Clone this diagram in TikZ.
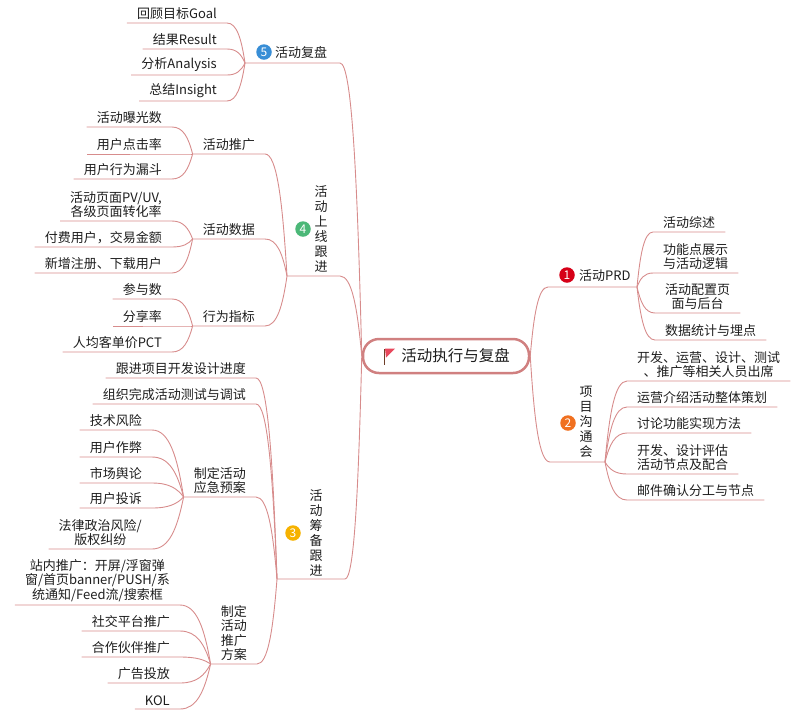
\documentclass[tikz,border=0pt]{standalone}
\usepackage{fontspec}
\setmainfont{Noto Sans CJK SC}
\usetikzlibrary{calc}
\definecolor{linec}{RGB}{215,140,140}
\definecolor{rootc}{RGB}{208,128,128}
\definecolor{textc}{RGB}{30,30,30}
\definecolor{badgered}{RGB}{214,0,24}
\definecolor{badgeorange}{RGB}{240,112,32}
\definecolor{badgeyellow}{RGB}{246,178,0}
\definecolor{badgegreen}{RGB}{76,184,120}
\definecolor{badgeblue}{RGB}{56,142,214}
\definecolor{flagc}{RGB}{232,72,92}
\definecolor{polec}{RGB}{110,62,40}
\tikzset{
  link/.style={draw=linec, line width=0.9pt},
  fan/.style={to path={let \p1=(\tikztostart), \p2=(\tikztotarget) in
    .. controls ({\x1+0.2*(\x2-\x1)},{\y1+0.6*(\y2-\y1)}) and ({\x1+0.45*(\x2-\x1)},\y2) .. (\tikztotarget)}},
  leaf/.style={inner xsep=10pt, inner ysep=3pt, align=center, text=textc,
    font=\fontsize{13}{14.5}\selectfont},
  leafL/.style={leaf, anchor=south east},
  leafR/.style={leaf, anchor=south west},
  vtext/.style={align=center, inner sep=0pt, text=textc, font=\fontsize{13}{15}\selectfont},
  badge/.style={circle, fill=#1, text=white, inner sep=0pt, minimum size=15.5pt,
    font=\fontsize{12}{12}\selectfont},
  root/.style={draw=rootc, line width=2.5pt, rounded corners=16pt, fill=white,
    minimum width=166pt, minimum height=34pt, text=textc, font=\fontsize{15.5}{18}\selectfont},
}
\begin{document}
\begin{tikzpicture}[x=1pt,y=1pt]
	\useasboundingbox (0,0) rectangle (800,-716);

	% centre
	\node[root] (root) at (446,-356) {\hspace*{19pt}活动执行与复盘};
	\fill[polec] (383.6,-348.5) rectangle (385,-364.5);
	\fill[flagc] (385,-348.5) -- (395,-348.5) -- (386,-357.5) -- cycle;

	% 1 活动PRD
	\coordinate (b1in) at (548,-287);
	\coordinate (b1out) at (637,-287);
	\node[badge=badgered] (n1) at (567,-275) {1};
	\node[vtext, anchor=west] (t1) at (579,-276) {活动PRD};
	\draw[link] (root.east) to[fan] (b1in) -- (b1out);
	\node[leafR] (l11) at (653,-232) {活动综述};
	\node[leafR] (l12) at (653,-273) {功能点展示\\与活动逻辑};
	\node[leafR] (l13) at (655,-313) {活动配置页\\面与后台};
	\node[leafR] (l14) at (655,-340) {数据统计与埋点};
	\draw[link] (b1out) to[fan] (l11.south west) -- (l11.south east);
	\draw[link] (b1out) to[fan] (l12.south west) -- (l12.south east);
	\draw[link] (b1out) to[fan] (l13.south west) -- (l13.south east);
	\draw[link] (b1out) to[fan] (l14.south west) -- (l14.south east);

	% 2 项目沟通会
	\coordinate (b2in) at (550,-462);
	\coordinate (b2out) at (605,-462);
	\node[badge=badgeorange] (n2) at (568,-423) {2};
	\node[vtext] (t2) at (586,-422) {项\\目\\沟\\通\\会};
	\draw[link] (root.east) to[fan] (b2in) -- (b2out);
	\node[leafR] (l21) at (627,-381) {开发、运营、设计、测试\\、推广等相关人员出席};
	\node[leafR] (l22) at (627,-407) {运营介绍活动整体策划};
	\node[leafR] (l23) at (627,-433) {讨论功能实现方法};
	\node[leafR] (l24) at (627,-474) {开发、设计评估\\活动节点及配合};
	\node[leafR] (l25) at (627,-500) {邮件确认分工与节点};
	\draw[link] (b2out) to[fan] (l21.south west) -- (l21.south east);
	\draw[link] (b2out) to[fan] (l22.south west) -- (l22.south east);
	\draw[link] (b2out) to[fan] (l23.south west) -- (l23.south east);
	\draw[link] (b2out) to[fan] (l24.south west) -- (l24.south east);
	\draw[link] (b2out) to[fan] (l25.south west) -- (l25.south east);

	% 5 活动复盘
	\coordinate (b5in) at (340,-63);
	\coordinate (b5out) at (245,-63);
	\node[badge=badgeblue] (n5) at (264,-52) {5};
	\node[vtext, anchor=west] (t5) at (275,-52) {活动复盘};
	\draw[link] (root.west) to[fan] (b5in) -- (b5out);
	\node[leafL] (l51) at (227,-23) {回顾目标Goal};
	\node[leafL] (l52) at (227,-49) {结果Result};
	\node[leafL] (l53) at (227,-75) {分析Analysis};
	\node[leafL] (l54) at (227,-101) {总结Insight};
	\draw[link] (b5out) to[fan] (l51.south east) -- (l51.south west);
	\draw[link] (b5out) to[fan] (l52.south east) -- (l52.south west);
	\draw[link] (b5out) to[fan] (l53.south east) -- (l53.south west);
	\draw[link] (b5out) to[fan] (l54.south east) -- (l54.south west);

	% 4 活动上线跟进
	\coordinate (b4in) at (340,-276);
	\coordinate (b4out) at (287,-276);
	\node[badge=badgegreen] (n4) at (303,-229) {4};
	\node[vtext] (t4) at (321,-229) {活\\动\\上\\线\\跟\\进};
	\draw[link] (root.west) to[fan] (b4in) -- (b4out);
	\node[leafL] (s41) at (265,-154) {活动推广};
	\node[leafL] (s42) at (265,-239) {活动数据};
	\node[leafL] (s43) at (265,-326) {行为指标};
	\draw[link] (b4out) to[fan] (s41.south east) -- (s41.south west);
	\draw[link] (b4out) to[fan] (s42.south east) -- (s42.south west);
	\draw[link] (b4out) to[fan] (s43.south east) -- (s43.south west);
	\node[leafL] (l411) at (172,-127) {活动曝光数};
	\node[leafL] (l412) at (172,-154) {用户点击率};
	\node[leafL] (l413) at (172,-179) {用户行为漏斗};
	\draw[link] (s41.south west) to[fan] (l411.south east) -- (l411.south west);
	\draw[link] (s41.south west) to[fan] (l412.south east) -- (l412.south west);
	\draw[link] (s41.south west) to[fan] (l413.south east) -- (l413.south west);
	\node[leafL] (l421) at (172,-221) {活动页面PV/UV,\\各级页面转化率};
	\node[leafL] (l422) at (172,-247) {付费用户，交易金额};
	\node[leafL] (l423) at (172,-273) {新增注册、下载用户};
	\draw[link] (s42.south west) to[fan] (l421.south east) -- (l421.south west);
	\draw[link] (s42.south west) to[fan] (l422.south east) -- (l422.south west);
	\draw[link] (s42.south west) to[fan] (l423.south east) -- (l423.south west);
	\node[leafL] (l431) at (172,-299) {参与数};
	\node[leafL] (l432) at (172,-326) {分享率};
	\node[leafL] (l433) at (172,-352) {人均客单价PCT};
	\draw[link] (s43.south west) to[fan] (l431.south east) -- (l431.south west);
	\draw[link] (s43.south west) to[fan] (l432.south east) -- (l432.south west);
	\draw[link] (s43.south west) to[fan] (l433.south east) -- (l433.south west);

	% 3 活动筹备跟进
	\coordinate (b3in) at (345,-579);
	\coordinate (b3out) at (277,-579);
	\node[badge=badgeyellow] (n3) at (293,-533) {3};
	\node[vtext] (t3) at (316,-533) {活\\动\\筹\\备\\跟\\进};
	\draw[link] (root.west) to[fan] (b3in) -- (b3out);
	\node[leafL] (s31) at (256,-378) {跟进项目开发设计进度};
	\node[leafL] (s32) at (256,-404) {组织完成活动测试与调试};
	\node[leafL] (s33) at (256,-497) {制定活动\\应急预案};
	\node[leafL] (s34) at (257,-664) {制定\\活动\\推广\\方案};
	\draw[link] (b3out) to[fan] (s31.south east) -- (s31.south west);
	\draw[link] (b3out) to[fan] (s32.south east) -- (s32.south west);
	\draw[link] (b3out) to[fan] (s33.south east) -- (s33.south west);
	\draw[link] (b3out) to[fan] (s34.south east) -- (s34.south west);
	\node[leafL] (l331) at (152,-430) {技术风险};
	\node[leafL] (l332) at (152,-457) {用户作弊};
	\node[leafL] (l333) at (152,-483) {市场舆论};
	\node[leafL] (l334) at (152,-508) {用户投诉};
	\node[leafL] (l335) at (152,-549) {法律政治风险/\\版权纠纷};
	\draw[link] (s33.south west) to[fan] (l331.south east) -- (l331.south west);
	\draw[link] (s33.south west) to[fan] (l332.south east) -- (l332.south west);
	\draw[link] (s33.south west) to[fan] (l333.south east) -- (l333.south west);
	\draw[link] (s33.south west) to[fan] (l334.south east) -- (l334.south west);
	\draw[link] (s33.south west) to[fan] (l335.south east) -- (l335.south west);
	\node[leafL] (l341) at (180,-605) {站内推广：开屏/浮窗弹\\窗/首页banner/PUSH/系\\统通知/Feed流/搜索框};
	\node[leafL] (l342) at (180,-631) {社交平台推广};
	\node[leafL] (l343) at (180,-657) {合作伙伴推广};
	\node[leafL] (l344) at (180,-683) {广告投放};
	\node[leafL] (l345) at (180,-709) {KOL};
	\draw[link] (s34.south west) to[fan] (l341.south east) -- (l341.south west);
	\draw[link] (s34.south west) to[fan] (l342.south east) -- (l342.south west);
	\draw[link] (s34.south west) to[fan] (l343.south east) -- (l343.south west);
	\draw[link] (s34.south west) to[fan] (l344.south east) -- (l344.south west);
	\draw[link] (s34.south west) to[fan] (l345.south east) -- (l345.south west);
\end{tikzpicture}
\end{document}
